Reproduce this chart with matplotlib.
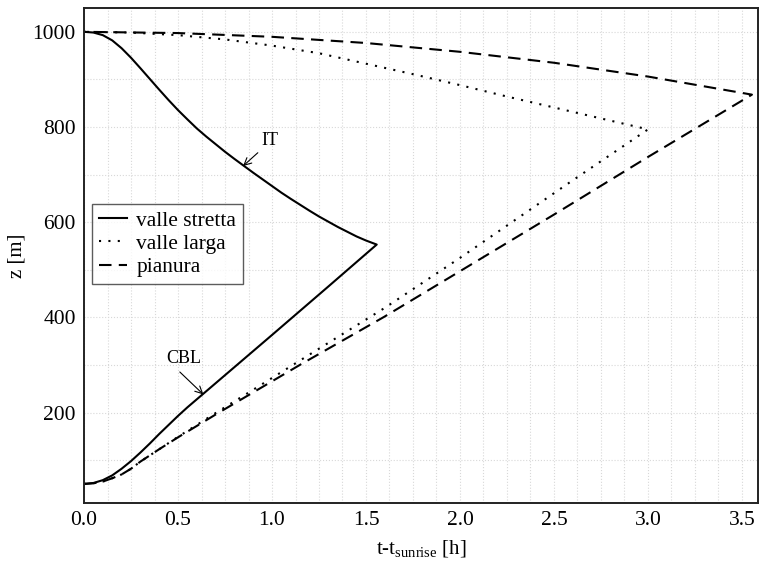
import matplotlib
matplotlib.use("Agg")
import matplotlib.pyplot as plt
from matplotlib.ticker import MultipleLocator, FormatStrFormatter

plt.rcParams["font.family"] = ["Liberation Serif", "DejaVu Serif"]
plt.rcParams["mathtext.fontset"] = "custom"
plt.rcParams["mathtext.rm"] = "Liberation Serif"

# valle stretta (narrow valley): CBL branch (rising) and IT branch (top of the inversion)
stretta_cbl_t = [0.0, 0.05, 0.1, 0.15, 0.2, 0.25, 0.3, 0.35, 0.4, 0.45, 0.5, 0.55, 0.63, 1.0, 1.3, 1.557]
stretta_cbl_z = [50, 52, 58, 68, 82, 98, 116, 135, 155, 174, 193, 211, 238, 363, 465, 553]
stretta_it_t = [0.0, 0.05, 0.1, 0.15, 0.2, 0.25, 0.3, 0.35, 0.4, 0.45, 0.5, 0.55, 0.6, 0.65, 0.7, 0.75,
                0.8, 0.85, 0.9, 0.95, 1.0, 1.05, 1.1, 1.15, 1.2, 1.25, 1.3, 1.35, 1.4, 1.45, 1.5, 1.557]
stretta_it_z = [1000, 998.5, 993, 982, 965.5, 945.5, 923.5, 901, 878.5, 856.5, 835.5, 816, 797, 780, 764, 748,
                733, 718.5, 704, 690, 676, 662, 649, 636.5, 624, 612, 601, 590, 580, 570, 561.5, 553]

# valle larga (wide valley)
larga_cbl_t = [0.0, 0.05, 0.1, 0.15, 0.2, 0.25, 0.3, 0.4, 0.5, 0.7, 0.9, 1.2, 1.6, 2.0, 2.585, 3.0]
larga_cbl_z = [50, 51.5, 55, 62, 70, 82, 97, 123, 149, 199, 248, 322, 420, 525, 684, 795]
larga_it_t = [0.0, 0.25, 0.5, 0.75, 1.0, 1.25, 1.5, 1.75, 2.0, 2.25, 2.5, 2.75, 3.0]
larga_it_z = [1000, 998.5, 993, 984, 971, 955, 933, 911, 888, 864, 841, 818, 795]

# pianura (plain)
pianura_cbl_t = [0.0, 0.05, 0.1, 0.15, 0.2, 0.25, 0.3, 0.4, 0.5, 0.709, 1.152, 1.596, 2.0, 2.5, 3.0, 3.553]
pianura_cbl_z = [50, 51.5, 55, 62, 70, 82, 97, 123, 148, 198, 301, 401, 497, 616, 737, 868]
pianura_it_t = [0.0, 0.5, 1.0, 1.5, 2.0, 2.5, 3.0, 3.553]
pianura_it_z = [1000, 997.4, 989.5, 976.5, 958, 935, 906, 868]

fig = plt.figure(figsize=(7.61, 5.61), dpi=100)
ax = fig.add_axes([0.1104, 0.1034, 0.8856, 0.8823])

ax.plot(stretta_cbl_t + stretta_it_t[::-1], stretta_cbl_z + stretta_it_z[::-1],
        color="black", lw=1.5, ls="-", label="valle stretta")
ax.plot(larga_cbl_t + larga_it_t[::-1], larga_cbl_z + larga_it_z[::-1],
        color="black", lw=1.5, ls=(0, (1, 3.5)), label="valle larga")
ax.plot(pianura_cbl_t + pianura_it_t[::-1], pianura_cbl_z + pianura_it_z[::-1],
        color="black", lw=1.5, ls=(0, (6, 3.5)), label="pianura")

ax.annotate("IT", xy=(0.846, 718), xytext=(0.99, 771), ha="center", va="center", fontsize=13,
            arrowprops=dict(arrowstyle="->", lw=0.8, color="black", relpos=(0.0, 0.0),
                            shrinkA=1, shrinkB=0))
ax.annotate("CBL", xy=(0.635, 238), xytext=(0.53, 313), ha="center", va="center", fontsize=13,
            arrowprops=dict(arrowstyle="->", lw=0.8, color="black", relpos=(0.25, 0.0),
                            shrinkA=2, shrinkB=0))

ax.set_xlim(0, 3.585)
ax.set_ylim(10, 1050)
ax.xaxis.set_major_locator(MultipleLocator(0.5))
ax.xaxis.set_minor_locator(MultipleLocator(0.125))
ax.yaxis.set_major_locator(MultipleLocator(200))
ax.yaxis.set_minor_locator(MultipleLocator(100))
ax.yaxis.set_major_formatter(FormatStrFormatter("%d"))
ax.xaxis.set_major_formatter(FormatStrFormatter("%.1f"))
ax.grid(which="both", color="#d8d8d8", ls=":", lw=0.8)
ax.set_axisbelow(True)
ax.tick_params(which="both", length=0, labelsize=15.5, pad=6)
for s in ax.spines.values():
    s.set_linewidth(1.4)
    s.set_color("#222222")

ax.set_xlabel("t-t$_{\\mathrm{sunrise}}$ [h]", fontsize=15, labelpad=6)
ax.set_ylabel("z [m]", fontsize=15, labelpad=4)

leg = ax.legend(loc="upper left", bbox_to_anchor=(0.012, 0.604), fontsize=15.5, frameon=True,
                fancybox=False, edgecolor="#333333", handlelength=1.3, borderpad=0.3,
                labelspacing=0.15, handletextpad=0.45, borderaxespad=0)
leg.get_frame().set_linewidth(1.0)

fig.savefig("out.png", dpi=100)
